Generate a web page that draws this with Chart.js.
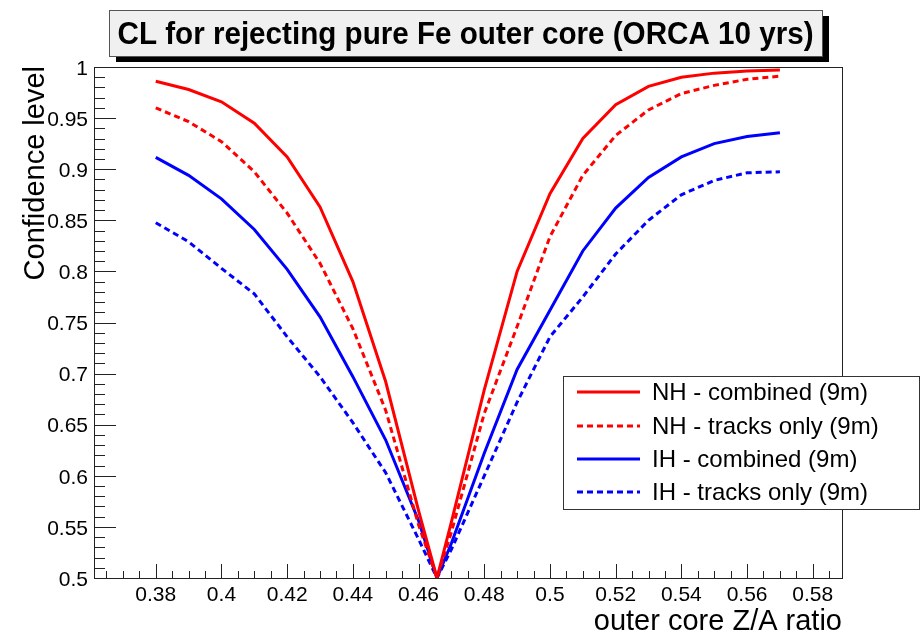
<!DOCTYPE html>
<html>
<head>
<meta charset="utf-8">
<script src="https://cdn.jsdelivr.net/npm/chart.js@4.4.1/dist/chart.umd.min.js"></script>
<style>
html, body { margin: 0; padding: 0; background: #fff; }
#wrap { width: 921px; height: 632px; }
</style>
</head>
<body>
<div id="wrap"><canvas id="clChart" width="921" height="632"></canvas></div>
<script>
// Z/A of the outer core; 0.4656 is pure iron (26/55.845)
const zaRatio = [0.38, 0.39, 0.40, 0.41, 0.42, 0.43, 0.44, 0.45, 0.46, 0.4656,
                 0.47, 0.48, 0.49, 0.50, 0.51, 0.52, 0.53, 0.54, 0.55, 0.56, 0.57];

const nhCombined = [0.986, 0.978, 0.966, 0.945, 0.912, 0.863, 0.790, 0.692, 0.566, 0.5,
                    0.555, 0.684, 0.800, 0.876, 0.930, 0.963, 0.981, 0.990, 0.994, 0.996, 0.997];
const nhTracks   = [0.960, 0.9465, 0.927, 0.8975, 0.857, 0.808, 0.744, 0.664, 0.552, 0.5,
                    0.545, 0.661, 0.746, 0.834, 0.894, 0.933, 0.958, 0.974, 0.982, 0.988, 0.991];
const ihCombined = [0.9116, 0.894, 0.871, 0.841, 0.802, 0.7555, 0.697, 0.635, 0.556, 0.5,
                    0.534, 0.622, 0.704, 0.762, 0.820, 0.862, 0.892, 0.912, 0.925, 0.932, 0.9357];
const ihTracks   = [0.8476, 0.829, 0.803, 0.778, 0.736, 0.697, 0.652, 0.603, 0.538, 0.5,
                    0.528, 0.600, 0.672, 0.736, 0.775, 0.817, 0.850, 0.875, 0.889, 0.8965, 0.8975];

const seriesLabels = ['NH - combined (9m)', 'NH - tracks only (9m)', 'IH - combined (9m)', 'IH - tracks only (9m)'];

const xTickValues = [0.38, 0.40, 0.42, 0.44, 0.46, 0.48, 0.50, 0.52, 0.54, 0.56, 0.58];
const xTickLabels = ['0.38', '0.4', '0.42', '0.44', '0.46', '0.48', '0.5', '0.52', '0.54', '0.56', '0.58'];
const yTickValues = [0.5, 0.55, 0.6, 0.65, 0.7, 0.75, 0.8, 0.85, 0.9, 0.95, 1];
const yTickLabels = ['0.5', '0.55', '0.6', '0.65', '0.7', '0.75', '0.8', '0.85', '0.9', '0.95', '1'];

const titleText = 'CL for rejecting pure Fe outer core (ORCA 10 yrs)';
const xTitle = 'outer core Z/A ratio';
const yTitle = 'Confidence level';

const FONT = '"Liberation Sans", Arial, Helvetica, sans-serif';

function points(ys) {
    return zaRatio.map((x, i) => ({ x: x, y: ys[i] }));
}

// ROOT style frame: inward ticks, labels and axis titles
const rootFrame = {
    id: 'rootFrame',
    beforeDatasetsDraw(chart) {
        const { ctx, chartArea: a, scales: { x, y } } = chart;
        ctx.save();
        ctx.strokeStyle = '#222';
        ctx.lineWidth = 1;
        ctx.strokeRect(Math.round(a.left) + 0.5, Math.round(a.top) + 0.5,
                       Math.round(a.right - a.left), Math.round(a.bottom - a.top));

        ctx.beginPath();
        // x ticks every 0.005, long ones every 0.02
        for (let i = 72; i <= 118; i++) {
            const v = i * 0.005;
            if (v < x.min || v > x.max) continue;
            const px = Math.round(x.getPixelForValue(v)) + 0.5;
            const len = i % 4 === 0 ? 14 : 7;
            ctx.moveTo(px, a.bottom);
            ctx.lineTo(px, a.bottom - len);
        }
        // y ticks every 0.01, long ones every 0.05
        for (let i = 50; i <= 100; i++) {
            const py = Math.round(y.getPixelForValue(i * 0.01)) + 0.5;
            const len = i % 5 === 0 ? 22 : 11;
            ctx.moveTo(a.left, py);
            ctx.lineTo(a.left + len, py);
        }
        ctx.stroke();

        ctx.fillStyle = '#000';
        ctx.font = '21px ' + FONT;
        ctx.textAlign = 'center';
        ctx.textBaseline = 'alphabetic';
        xTickValues.forEach((v, i) => {
            ctx.fillText(xTickLabels[i], x.getPixelForValue(v), a.bottom + 23);
        });
        ctx.textAlign = 'right';
        ctx.textBaseline = 'middle';
        yTickValues.forEach((v, i) => {
            ctx.fillText(yTickLabels[i], a.left - 6, y.getPixelForValue(v) + 2);
        });

        ctx.font = '29px ' + FONT;
        ctx.textAlign = 'right';
        ctx.textBaseline = 'alphabetic';
        ctx.fillText(xTitle, a.right, 630);

        ctx.translate(44, a.top - 1);
        ctx.rotate(-Math.PI / 2);
        ctx.fillText(yTitle, 0, 0);
        ctx.restore();
    },
    afterDraw(chart) {
        const ctx = chart.ctx;
        ctx.save();

        // title pave with drop shadow
        const bx = 109, by = 10, bw = 713, bh = 46;
        ctx.fillStyle = '#000';
        ctx.fillRect(bx + 7, by + 6, bw, bh);
        ctx.fillStyle = '#f0f0f0';
        ctx.fillRect(bx, by, bw, bh);
        ctx.strokeStyle = '#555';
        ctx.lineWidth = 1;
        ctx.strokeRect(bx + 0.5, by + 0.5, bw, bh);

        ctx.font = 'bold 32px ' + FONT;
        const tw = ctx.measureText(titleText).width;
        const sx = 696 / tw;
        ctx.translate(bx + bw / 2, 44);
        ctx.scale(sx, 1);
        ctx.fillStyle = '#000';
        ctx.textAlign = 'center';
        ctx.textBaseline = 'alphabetic';
        ctx.fillText(titleText, 0, 0);
        ctx.setTransform(1, 0, 0, 1, 0, 0);

        // legend
        const lx = 563, ly = 376, lw = 356, lh = 133;
        ctx.fillStyle = '#fff';
        ctx.fillRect(lx, ly, lw, lh);
        ctx.strokeStyle = '#333';
        ctx.strokeRect(lx + 0.5, ly + 0.5, lw, lh);
        const rows = [392, 426, 459, 492];
        ctx.font = '24px ' + FONT;
        ctx.textAlign = 'left';
        ctx.textBaseline = 'middle';
        chart.data.datasets.forEach((ds, i) => {
            ctx.strokeStyle = ds.borderColor;
            ctx.lineWidth = ds.borderWidth;
            ctx.setLineDash(ds.borderDash || []);
            ctx.beginPath();
            ctx.moveTo(577, rows[i]);
            ctx.lineTo(640, rows[i]);
            ctx.stroke();
            ctx.setLineDash([]);
            ctx.fillStyle = '#000';
            ctx.fillText(ds.label, 652, rows[i] + 1);
        });
        ctx.restore();
    }
};

const ctx = document.getElementById('clChart').getContext('2d');

const clChart = new Chart(ctx, {
    type: 'line',
    data: {
        datasets: [
            { label: seriesLabels[0], data: points(nhCombined), borderColor: '#ff0000', borderWidth: 3 },
            { label: seriesLabels[1], data: points(nhTracks), borderColor: '#ff0000', borderWidth: 3, borderDash: [6, 4] },
            { label: seriesLabels[2], data: points(ihCombined), borderColor: '#0000ff', borderWidth: 3 },
            { label: seriesLabels[3], data: points(ihTracks), borderColor: '#0000ff', borderWidth: 3, borderDash: [6, 4] }
        ]
    },
    options: {
        responsive: false,
        devicePixelRatio: 1,
        animation: false,
        layout: { padding: { left: 94, top: 67, right: 79, bottom: 54 } },
        elements: { point: { radius: 0 }, line: { tension: 0, fill: false } },
        plugins: { legend: { display: false }, tooltip: { enabled: false } },
        scales: {
            x: { type: 'linear', min: 0.3612, max: 0.5889, display: false },
            y: { type: 'linear', min: 0.5, max: 1, display: false }
        }
    },
    plugins: [rootFrame]
});
</script>
</body>
</html>
